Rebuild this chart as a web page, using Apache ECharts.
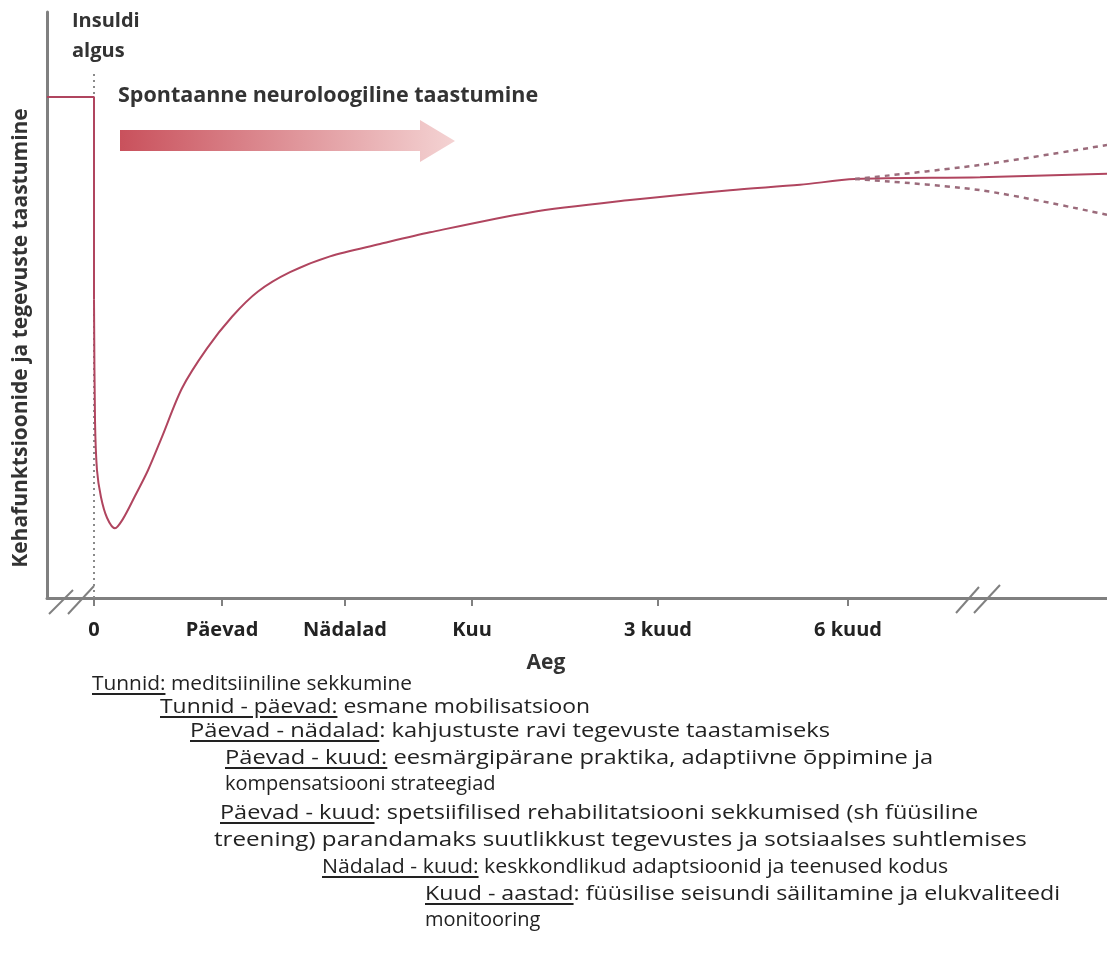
<!DOCTYPE html>
<html>
<head>
<meta charset="UTF-8">
<title>Insuldi taastumine</title>
<script src="https://cdn.jsdelivr.net/npm/echarts@6/dist/echarts.min.js"></script>
<style>
  html, body { margin: 0; padding: 0; background: #fff; }
  #main { width: 1107px; height: 958px; }
  #notes { position: absolute; left: 0; top: 0; width: 1107px; height: 958px; pointer-events: none; }
  .nl { position: absolute; white-space: nowrap; font-family: "Open Sans", sans-serif; font-size: 20px; color: #222; line-height: 24px; transform-origin: 0 50%; }
  .nl u { text-underline-offset: 3px; }
</style>
</head>
<body>
<div id="main"></div>
<div id="notes"></div>
<script type="text/javascript">
// telg: aeg (skemaatiline), taastumise tase 0..100
var tickValues = [4.7, 17.5, 29.8, 42.5, 61.1, 80.1];
var tickLabels = ['0', 'Päevad', 'Nädalad', 'Kuu', '3 kuud', '6 kuud'];

// enne insulti + langus
var preX = [0, 4.7, 4.7];
var preY = [85.5, 85.5, 50.9];

// taastumise kõver
var curveX = [4.7, 4.8, 5.0, 5.4, 6.0, 6.8, 7.6, 8.8, 10.1, 11.5, 13.5, 16.0, 18.5, 21.1, 24.3, 28.3, 33.3, 38.3, 48.3, 58.3, 68.3, 75.3, 80.8, 93.3, 106];
var curveY = [50.9, 30.4, 21.8, 17.2, 13.7, 11.9, 13.5, 17.4, 21.8, 27.5, 35.8, 42.6, 48.0, 52.3, 55.6, 58.3, 60.4, 62.4, 65.8, 67.9, 69.6, 70.5, 71.5, 71.8, 72.4];

// võimalikud suunad pärast 6 kuud
var upperX = [80.8, 93.3, 106];
var upperY = [71.5, 73.9, 77.3];
var lowerX = [80.8, 93.3, 106];
var lowerY = [71.5, 69.6, 65.4];

// insuldi algus (punktiirjoon)
var onsetX = [4.7, 4.7];
var onsetY = [0, 89.8];

var notes = [
  ['Tunnid:', ' meditsiiniline sekkumine'],
  ['Tunnid - päevad:', ' esmane mobilisatsioon'],
  ['Päevad - nädalad', ': kahjustuste ravi tegevuste taastamiseks'],
  ['Päevad - kuud:', ' eesmärgipärane praktika, adaptiivne õppimine ja'],
  ['', 'kompensatsiooni strateegiad'],
  ['Päevad - kuud', ': spetsiifilised rehabilitatsiooni sekkumised (sh füüsiline'],
  ['', 'treening) parandamaks suutlikkust tegevustes ja sotsiaalses suhtlemises'],
  ['Nädalad - kuud:', ' keskkondlikud adaptsioonid ja teenused kodus'],
  ['Kuud - aastad', ': füüsilise seisundi säilitamine ja elukvaliteedi'],
  ['', 'monitooring']
];
// vasak serv, keskjoon y, parem serv (0 = loomulik laius)
var noteBox = [
  [92, 683, 412], [160, 706, 590], [190, 730, 830], [225, 757, 933], [225, 783, 0],
  [220, 812, 978], [214, 839, 1027], [322, 866, 948], [425, 893, 1060], [425, 919, 0]
];

function zip(xs, ys) {
  return xs.map(function (x, i) { return [x, ys[i]]; });
}

var lineColor = '#b0455f';
var dashColor = '#9b6b7b';
var boldFont = 'bold 21px "Open Sans"';

var myChart = echarts.init(document.getElementById('main'));
var option = {
  animation: false,
  grid: { left: 47, right: 0, top: 12, bottom: 360 },
  xAxis: {
    type: 'value',
    min: 0,
    max: 106,
    splitLine: { show: false },
    axisLine: { lineStyle: { color: '#808080', width: 3 } },
    axisTick: { show: true, customValues: tickValues, length: 8, lineStyle: { color: '#808080', width: 2 } },
    axisLabel: {
      customValues: tickValues,
      margin: 22,
      fontFamily: 'Open Sans',
      fontWeight: 'bold',
      fontSize: 20,
      color: '#222',
      formatter: function (v) {
        var i = tickValues.indexOf(v);
        return i >= 0 ? tickLabels[i] : '';
      }
    }
  },
  yAxis: {
    type: 'value',
    min: 0,
    max: 100,
    splitLine: { show: false },
    axisTick: { show: false },
    axisLabel: { show: false },
    axisLine: { show: true, lineStyle: { color: '#808080', width: 3 } }
  },
  series: [
    {
      type: 'line', data: zip(onsetX, onsetY), symbol: 'none',
      lineStyle: { color: '#8a8a8a', width: 2, type: [2, 4] }, z: 1
    },
    {
      type: 'line', data: zip(preX, preY), symbol: 'none',
      lineStyle: { color: lineColor, width: 2 }
    },
    {
      type: 'line', data: zip(curveX, curveY), symbol: 'none', smooth: 0.3,
      lineStyle: { color: lineColor, width: 2 }
    },
    {
      type: 'line', data: zip(upperX, upperY), symbol: 'none', smooth: 0.3,
      lineStyle: { color: dashColor, width: 2.5, type: [5, 5] }
    },
    {
      type: 'line', data: zip(lowerX, lowerY), symbol: 'none', smooth: 0.3,
      lineStyle: { color: dashColor, width: 2.5, type: [5, 5] }
    }
  ],
  graphic: [
    { type: 'text', left: 72, top: 6, style: { text: 'Insuldi\nalgus', font: 'bold 20px "Open Sans"', fill: '#333', lineHeight: 30 } },
    { type: 'text', left: 118, top: 85, style: { text: 'Spontaanne neuroloogiline taastumine', font: 'bold 21.5px "Open Sans"', fill: '#333' } },
    {
      type: 'polygon',
      shape: { points: [[120, 130], [420, 130], [420, 120], [455, 141], [420, 162], [420, 151], [120, 151]] },
      style: {
        fill: new echarts.graphic.LinearGradient(0, 0, 1, 0, [
          { offset: 0, color: '#c9515c' },
          { offset: 1, color: '#f4d3d3' }
        ])
      }
    },
    {
      type: 'text', x: 21, y: 338, rotation: Math.PI / 2,
      style: { text: 'Kehafunktsioonide ja tegevuste taastumine', font: boldFont, fill: '#333', textAlign: 'center', textVerticalAlign: 'middle' }
    },
    { type: 'text', x: 546, y: 663, style: { text: 'Aeg', font: boldFont, fill: '#333', textAlign: 'center', textVerticalAlign: 'middle' } },
    // katkestusmärgid
    { type: 'line', shape: { x1: 49, y1: 614, x2: 73, y2: 590 }, style: { stroke: '#808080', lineWidth: 2 } },
    { type: 'line', shape: { x1: 68, y1: 614, x2: 94, y2: 586 }, style: { stroke: '#808080', lineWidth: 2 } },
    { type: 'line', shape: { x1: 956, y1: 613, x2: 979, y2: 587 }, style: { stroke: '#808080', lineWidth: 2 } },
    { type: 'line', shape: { x1: 974, y1: 613, x2: 1000, y2: 585 }, style: { stroke: '#808080', lineWidth: 2 } }
  ]
};
myChart.setOption(option);

// märkused graafiku all
var box = document.getElementById('notes');
notes.forEach(function (n, i) {
  var d = document.createElement('div');
  d.className = 'nl';
  if (n[0]) {
    var u = document.createElement('u');
    u.textContent = n[0];
    d.appendChild(u);
  }
  d.appendChild(document.createTextNode(n[1]));
  d.style.left = noteBox[i][0] + 'px';
  d.style.top = (noteBox[i][1] - 12) + 'px';
  box.appendChild(d);
  if (noteBox[i][2]) {
    var w = d.getBoundingClientRect().width;
    var k = (noteBox[i][2] - noteBox[i][0]) / w;
    d.style.transform = 'scaleX(' + k.toFixed(3) + ')';
  }
});
</script>
</body>
</html>
